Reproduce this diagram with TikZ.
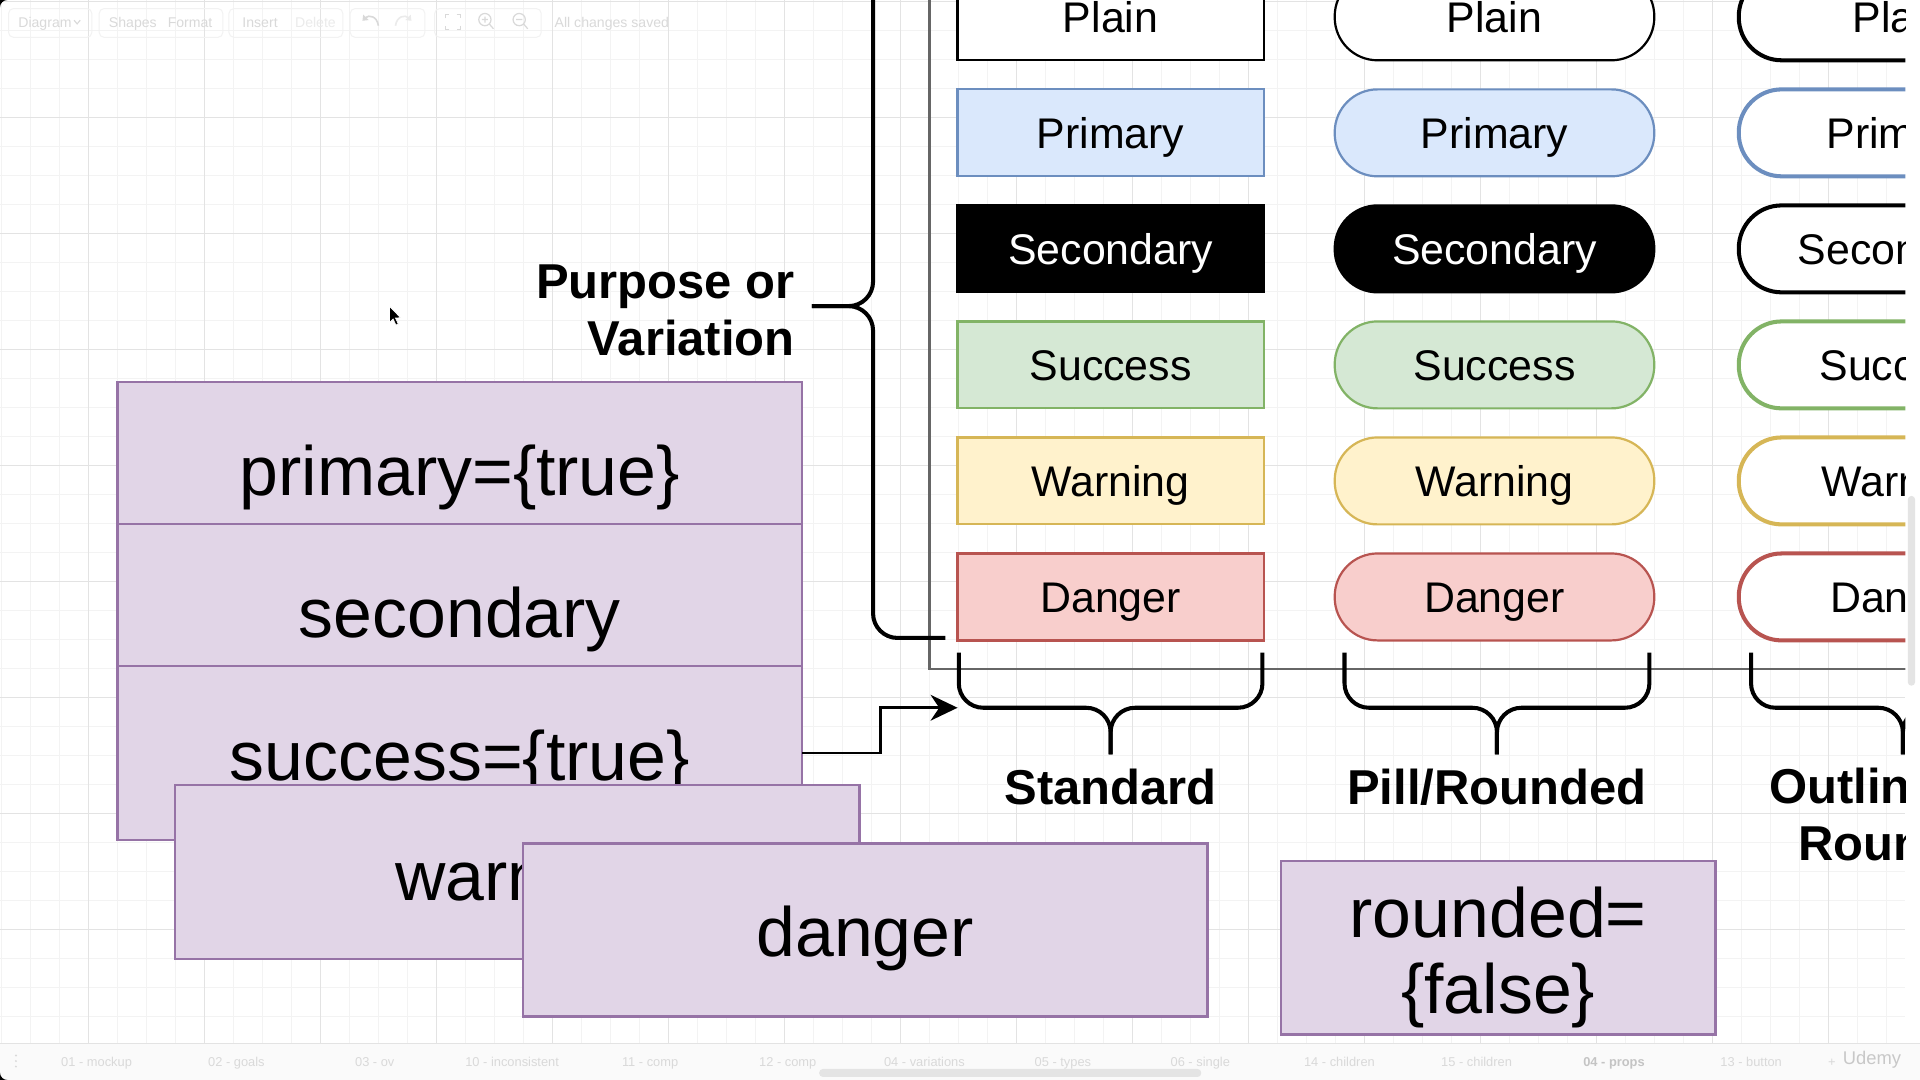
\documentclass[tikz,border=0pt]{standalone}
\usepackage{fontspec}
\setmainfont{Liberation Sans}
\usetikzlibrary{arrows.meta}
\definecolor{gridmaj}{HTML}{E3E3E3}
\definecolor{gridmin}{HTML}{F3F3F3}
\definecolor{purfill}{HTML}{E1D5E7}
\definecolor{purline}{HTML}{9673A6}
\definecolor{prifill}{HTML}{DAE8FC}
\definecolor{priline}{HTML}{6C8EBF}
\definecolor{sucfill}{HTML}{D5E8D4}
\definecolor{sucline}{HTML}{82B366}
\definecolor{warfill}{HTML}{FFF2CC}
\definecolor{warline}{HTML}{D6B656}
\definecolor{danfill}{HTML}{F8CECC}
\definecolor{danline}{HTML}{B85450}
\definecolor{uitext}{HTML}{D9D9D9}
\definecolor{uitextdark}{HTML}{C4C4C4}
\definecolor{uifaint}{HTML}{EBEBEB}
\definecolor{uibox}{HTML}{F2F2F2}
\definecolor{framegray}{HTML}{666666}
\definecolor{scrollc}{HTML}{E4E4E4}
\definecolor{tabbg}{HTML}{FAFAFA}
\definecolor{udemyc}{HTML}{C8C8C8}
\begin{document}
\begin{tikzpicture}[x=1pt,y=-1pt,
  every node/.style={inner sep=0pt, outer sep=0pt},
  gmin/.style={draw=gridmin, line width=0.9pt},
  gmaj/.style={draw=gridmaj, line width=0.9pt},
  btn/.style={rectangle, draw, line width=1.8pt, minimum width=250pt, minimum height=71pt, anchor=north west, font=\fontsize{35}{40}\selectfont, text height=25pt, text depth=0pt},
  pillbtn/.style={btn, minimum width=261pt, rounded corners=35pt},
  obtn/.style={btn, minimum width=264pt, rounded corners=35pt, line width=3.3pt, fill=white, text=black},
  purbox/.style={rectangle, draw=purline, fill=purfill, line width=2pt, anchor=north west},
  bigtxt/.style={font=\fontsize{57}{61}\selectfont, anchor=base},
  lbl/.style={font=\fontsize{40}{46}\selectfont\bfseries, anchor=base},
  brace/.style={draw=black, line width=3.3pt, rounded corners=20pt},
  conn/.style={draw=black, line width=2.2pt, -{Stealth[length=22pt,width=21pt,inset=7pt]}},
  ui/.style={font=\fontsize{11.5}{13}\selectfont, text=uitext, anchor=base west},
  tabl/.style={font=\fontsize{10.5}{12}\selectfont, text=uitext, anchor=base west},
  uiicon/.style={draw=uitext, line width=1.3pt},
  uigroup/.style={draw=uibox, line width=0.8pt, rounded corners=4pt},
]
\fill[white] (0,0) rectangle (1568,882);
\useasboundingbox (0,0) rectangle (1568,882);

\begin{scope}
\clip (0,0) rectangle (1556,852);
% grid
\foreach \k in {-3,...,62} \draw[gmin] ({72.3+23.6875*\k},0) -- ({72.3+23.6875*\k},852);
\foreach \k in {0,...,35} \draw[gmin] (0,{1.1+23.6875*\k}) -- (1556,{1.1+23.6875*\k});
\foreach \k in {0,...,15} \draw[gmaj] ({72.3+94.75*\k},0) -- ({72.3+94.75*\k},852);
\foreach \k in {0,...,8} \draw[gmaj] (0,{1.1+94.75*\k}) -- (1556,{1.1+94.75*\k});

% toolbar (faint)
\draw[uigroup] (7,7) rectangle (75,30.5);
\draw[uigroup] (81,7) rectangle (182,30.5);
\draw[uigroup] (187,7) rectangle (280,30.5);
\draw[uigroup] (286,7) rectangle (347,30.5);
\draw[uigroup] (355,7) rectangle (442,30.5);
\node[ui] (tbdiag) at (15,22.5) {Diagram};
\draw[uiicon, line width=0.9pt] (60.5,16.5) -- (63,19.5) -- (65.5,16.5);
\node[ui] (tbshapes) at (89,22.5) {Shapes};
\node[ui] (tbformat) at (137,22.5) {Format};
\node[ui] (tbinsert) at (198,22.5) {Insert};
\node[ui, text=uifaint] (tbdelete) at (241,22.5) {Delete};
\node[ui] (tbsaved) at (453,22.5) {All changes saved};
\draw[uiicon, {Triangle[length=4pt,width=6pt]}-] (296,17) .. controls (301,12) and (308,13) .. (309,21);
\draw[draw=uifaint, line width=1.3pt, {Triangle[length=4pt,width=6pt]}-] (336,17) .. controls (331,12) and (324,13) .. (323,21);
\draw[uiicon, line width=1pt] (364,15) -- (364,12) -- (367,12) (373,12) -- (376,12) -- (376,15) (376,21) -- (376,24) -- (373,24) (367,24) -- (364,24) -- (364,21);
\draw[uiicon, line width=1pt] (396,16) circle[radius=5pt] (399.5,19.5) -- (403,23.5) (393.5,16) -- (398.5,16) (396,13.5) -- (396,18.5);
\draw[uiicon, line width=1pt] (424,16) circle[radius=5pt] (427.5,19.5) -- (431,23.5) (421.5,16) -- (426.5,16);

% frame line
\draw[draw=framegray, line width=1.8pt] (759,-5) -- (759,546.5) -- (1570,546.5);

% left brace
\draw[brace] (713,-80) -- (713,250) -- (663,250);
\draw[brace] (663,250) -- (713,250) -- (713,521) -- (772,521);

% bottom braces
\draw[brace] (783,533) -- (783,578) -- (907,578) -- (907,616);
\draw[brace] (1031,533) -- (1031,578) -- (907,578) -- (907,616);
\draw[brace] (1098,533) -- (1098,578) -- (1222.5,578) -- (1222.5,616);
\draw[brace] (1347,533) -- (1347,578) -- (1222.5,578) -- (1222.5,616);
\draw[brace] (1430,533) -- (1430,578) -- (1554,578) -- (1554,616);
\draw[brace] (1678,533) -- (1678,578) -- (1554,578) -- (1554,616);

% buttons
\foreach \lab/\fc/\dc/\tc/\oc [count=\i] in {Plain/white/black/black/black, Primary/prifill/priline/black/priline, Secondary/black/black/white/black, Success/sucfill/sucline/black/sucline, Warning/warfill/warline/black/warline, Danger/danfill/danline/black/danline} {
  \pgfmathsetmacro\yy{-21.75+94.75*(\i-1)}
  \node[btn, fill=\fc, draw=\dc, text=\tc] (std\i) at (782,\yy) {\lab};
  \node[pillbtn, fill=\fc, draw=\dc, text=\tc] (pill\i) at (1090,\yy) {\lab};
  \node[obtn, draw=\oc] (out\i) at (1420,\yy) {\lab};
}

% purple prop boxes
\node[purbox, minimum width=559pt, minimum height=116pt] (bprim) at (96,312) {};
\node[bigtxt] (tprim) at (375.5,405) {primary=\{true\}};
\node[purbox, minimum width=559pt, minimum height=116pt] (bsec) at (96,428) {};
\node[bigtxt] (tsec) at (375.5,521) {secondary};
\node[purbox, minimum width=559pt, minimum height=142pt] (bsucc) at (96,544) {};
\node[bigtxt] (tsucc) at (375.5,637) {success=\{true\}};
\node[purbox, minimum width=559pt, minimum height=142pt] (bwarn) at (143,641) {};
\node[bigtxt] (twarn) at (422.5,735) {warning};
\node[purbox, minimum width=559pt, minimum height=141pt] (bdang) at (427,689) {};
\node[bigtxt] (tdang) at (706.5,781) {danger};
\node[purbox, minimum width=355pt, minimum height=142pt] (brnd) at (1046,703) {};
\node[bigtxt] (trnd1) at (1223.5,766) {rounded=};
\node[bigtxt] (trnd2) at (1223.5,828) {\{false\}};

% connector
\coordinate (arrtip) at (782,578);
\draw[conn] (bsucc.east) -- ++(64,0) |- (arrtip);

% labels
\node[lbl, anchor=base east] (pv1) at (649,244) {Purpose or};
\node[lbl, anchor=base east] (pv2) at (649,290) {Variation};
\node[lbl] (lstd) at (907,657) {Standard};
\node[lbl] (lpill) at (1222.5,657) {Pill/Rounded};
\node[lbl] (lout1) at (1555,656) {Outline and};
\node[lbl] (lout2) at (1555,703) {Rounded};

% mouse cursor
\filldraw[fill=black, draw=white, line width=0.6pt] (318,250) -- (318,263.5) -- (321,260.5) -- (323.3,265.5) -- (325.3,264.6) -- (323,259.7) -- (327.2,259.5) -- cycle;
\end{scope}

% right scrollbar
\fill[scrollc, rounded corners=3pt] (1558,405) rectangle (1564,560);

% tab bar
\fill[tabbg] (0,852) rectangle (1568,882);
\draw[gridmaj] (0,852) -- (1568,852);
\fill[uitext] (13,862) circle[radius=0.9pt] (13,866.5) circle[radius=0.9pt] (13,871) circle[radius=0.9pt];
\node[tabl] (tab1) at (50,871) {01 - mockup};
\node[tabl] (tab2) at (170,871) {02 - goals};
\node[tabl] (tab3) at (290,871) {03 - ov};
\node[tabl] (tab4) at (380,871) {10 - inconsistent};
\node[tabl] (tab5) at (508,871) {11 - comp};
\node[tabl] (tab6) at (620,871) {12 - comp};
\node[tabl] (tab7) at (722,871) {04 - variations};
\node[tabl] (tab8) at (845,871) {05 - types};
\node[tabl] (tab9) at (956,871) {06 - single};
\node[tabl] (tab10) at (1065,871) {14 - children};
\node[tabl] (tab11) at (1177,871) {15 - children};
\node[tabl, font=\fontsize{10.5}{12}\selectfont\bfseries, text=uitextdark] (tab12) at (1293,871) {04 - props};
\node[tabl] (tab13) at (1405,871) {13 - button};
\node[tabl] (tabplus) at (1493,871) {+};
\node[font=\fontsize{15}{17}\selectfont, text=udemyc, anchor=base west] (udemy) at (1505,869) {Udemy};
\fill[scrollc, rounded corners=3pt] (669,873) rectangle (981,879.5);

% screen corners
\fill[black] (0,0) -- (6,0) .. controls (2.7,0) and (0,2.7) .. (0,6) -- cycle;
\fill[black] (0,882) -- (6,882) .. controls (2.7,882) and (0,879.3) .. (0,876) -- cycle;
\end{tikzpicture}
\end{document}
